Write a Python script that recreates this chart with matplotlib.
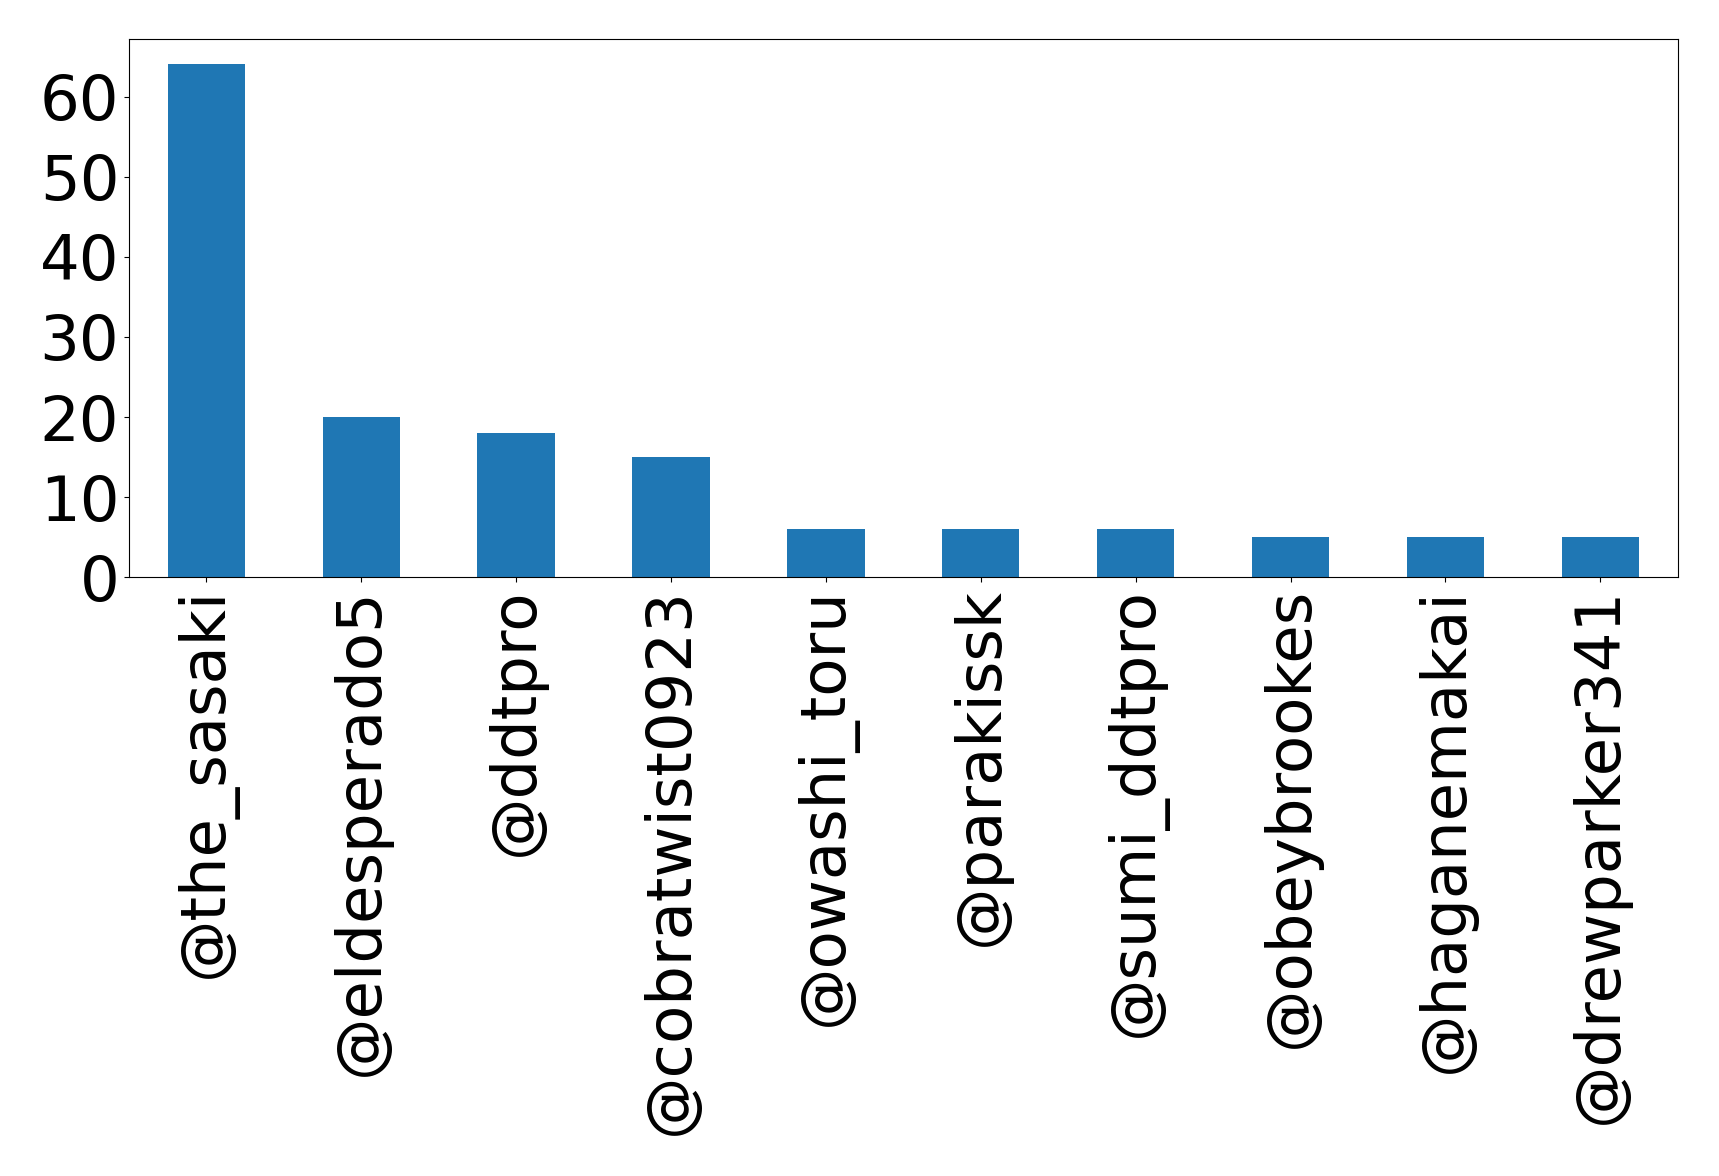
import pandas as pd
import matplotlib
matplotlib.use("Agg")
import matplotlib.pyplot as plt

users = ["@the_sasaki", "@eldesperado5", "@ddtpro", "@cobratwist0923", "@owashi_toru",
         "@parakissk", "@sumi_ddtpro", "@obeybrookes", "@haganemakai", "@drewparker341"]
counts = [64, 20, 18, 15, 6, 6, 6, 5, 5, 5]
yticks = [0, 10, 20, 30, 40, 50, 60]

s = pd.Series(counts, index=users)

fig, ax = plt.subplots(figsize=(17.19, 11.76), dpi=100)
s.plot.bar(ax=ax, color="#1f77b4")
ax.set_yticks(yticks)
ax.tick_params(axis="both", labelsize=45)
plt.subplots_adjust(left=0.075, right=0.976, top=0.967, bottom=0.509)
plt.savefig("out.png")
